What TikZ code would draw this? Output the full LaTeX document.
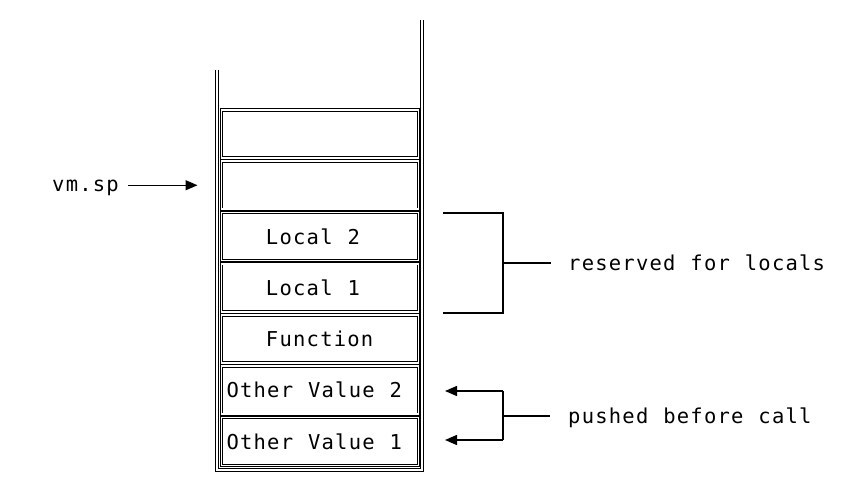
\documentclass[tikz,border=0pt]{standalone}
\usepackage{fontspec}
\newfontfamily\stackfont[LetterSpace=6, WordSpace={1.1,0,0}]{DejaVu Sans Mono}
\usetikzlibrary{positioning,arrows.meta}

\tikzset{
  dbl/.style={double, double distance=1.6pt, line width=0.8pt},
  slot/.style={draw, dbl, inner xsep=5pt, inner ysep=0pt, outer sep=0pt,
    minimum height=48pt, text width=187pt, align=flush left,
    font=\stackfont\fontsize{20.5}{24}\selectfont},
  lbl/.style={inner sep=0pt, font=\stackfont\fontsize{20.5}{24}\selectfont},
  bar/.style={line width=1.4pt},
  ptr/.style={bar, -{Triangle[length=12pt,width=10pt]}},
}

\begin{document}
\begin{tikzpicture}[x=1pt, y=-1pt]
    \useasboundingbox (0,0) rectangle (863,487);

    % stack walls
    \draw[dbl] (217,70) |- (422,470) -- (422,20);

    % slots, top to bottom
    \node[slot] (free2) at (320,134) {};
    \node[slot, below=3.25pt of free2] (free1) {};
    \node[slot, below=3.25pt of free1] (local2) {\hphantom{Oth}Local 2};
    \node[slot, below=3.25pt of local2] (local1) {\hphantom{Oth}Local 1};
    \node[slot, below=3.25pt of local1] (func) {\hphantom{Oth}Function};
    \node[slot, below=3.25pt of func] (other2) {Other Value 2};
    \node[slot, below=3.25pt of other2] (other1) {Other Value 1};

    % stack pointer
    \node[lbl, anchor=base west] (vmsp) at (52,191.5) {vm.sp};
    \coordinate (spstart) at (vmsp.east |- free1.west);
    \draw[ptr, shorten <=9pt, shorten >=24pt] (spstart) -- (free1.west);

    % locals
    \coordinate (ltop) at (443,213);
    \coordinate (lbot) at (443,313);
    \coordinate (lmid) at (503,263);
    \draw[bar] (ltop) -| (lmid |- lbot) -- (lbot);
    \node[lbl, anchor=base west] (reserved) at (568,270) {reserved for locals};
    \draw[bar, shorten >=17pt] (lmid) -- (lmid -| reserved.west);

    % arguments
    \coordinate (ptop) at (503,391);
    \coordinate (pbot) at (503,440);
    \coordinate (pmid) at (503,416);
    \draw[bar] (ptop) -- (pbot);
    \draw[ptr, shorten >=26.5pt] (ptop) -- (ptop -| other2.east);
    \draw[ptr, shorten >=26.5pt] (pbot) -- (pbot -| other1.east);
    \node[lbl, anchor=base west] (pushed) at (568,423) {pushed before call};
    \draw[bar, shorten >=18pt] (pmid) -- (pmid -| pushed.west);
\end{tikzpicture}
\end{document}
